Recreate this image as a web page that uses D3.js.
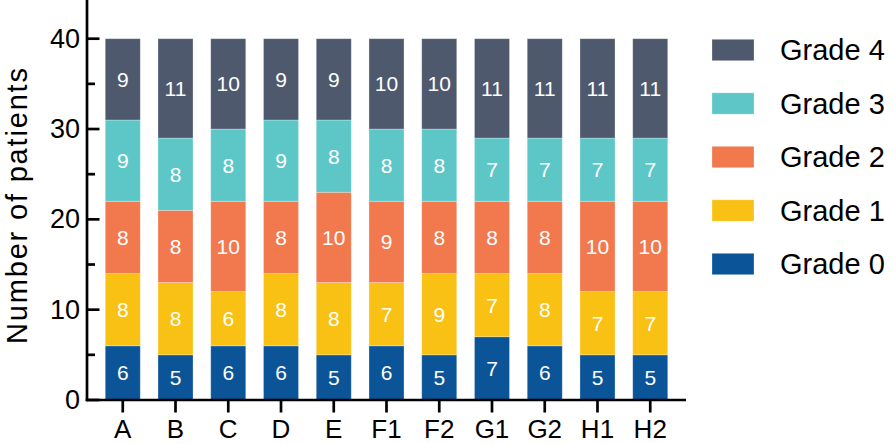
<!DOCTYPE html>
<html>
<head>
<meta charset="utf-8">
<script src="https://cdn.jsdelivr.net/npm/d3@7"></script>
<style>
  html, body { margin: 0; padding: 0; background: #fff; }
  svg { display: block; font-family: "Liberation Sans", Arial, sans-serif; }
</style>
</head>
<body>
<svg id="chart" width="895" height="444"></svg>
<script>
const categories = ["A", "B", "C", "D", "E", "F1", "F2", "G1", "G2", "H1", "H2"];
const seriesNames = ["Grade 0", "Grade 1", "Grade 2", "Grade 3", "Grade 4"];
const grade0 = [6, 5, 6, 6, 5, 6, 5, 7, 6, 5, 5];
const grade1 = [8, 8, 6, 8, 8, 7, 9, 7, 8, 7, 7];
const grade2 = [8, 8, 10, 8, 10, 9, 8, 8, 8, 10, 10];
const grade3 = [9, 8, 8, 9, 8, 8, 8, 7, 7, 7, 7];
const grade4 = [9, 11, 10, 9, 9, 10, 10, 11, 11, 11, 11];
const colors = ["#0B5497", "#F8C114", "#F2784E", "#5DC7C8", "#4E596E"];
const yTicks = [0, 10, 20, 30, 40];
const yMinorTicks = [5, 15, 25, 35];
const yTitle = "Number of patients";

const seriesValues = [grade0, grade1, grade2, grade3, grade4];
const rows = categories.map((c, i) => {
  const r = { cat: c };
  seriesNames.forEach((s, k) => r[s] = seriesValues[k][i]);
  return r;
});
const stacked = d3.stack().keys(seriesNames)(rows);

const svg = d3.select("#chart");
const x0 = 87, x1 = 686, yBase = 400;
const x = d3.scaleBand().domain(categories).range([x0, x1]).paddingInner(0.336).paddingOuter(0.346);
const y = d3.scaleLinear().domain([0, 40]).range([yBase, 38.7]);
const color = d3.scaleOrdinal().domain(seriesNames).range(colors);

// bars
const g = svg.append("g");
stacked.forEach((layer) => {
  g.append("g").selectAll("rect").data(layer).join("rect")
    .attr("x", d => x(d.data.cat))
    .attr("y", d => y(d[1]))
    .attr("width", x.bandwidth())
    .attr("height", d => y(d[0]) - y(d[1]))
    .attr("fill", color(layer.key))
    .attr("stroke", "rgba(255,255,255,0.35)")
    .attr("stroke-width", 0.8);
  g.append("g").selectAll("text").data(layer).join("text")
    .attr("x", d => x(d.data.cat) + x.bandwidth() / 2)
    .attr("y", d => (y(d[0]) + y(d[1])) / 2)
    .attr("text-anchor", "middle")
    .attr("dominant-baseline", "central")
    .attr("fill", "#fff")
    .attr("font-size", 21)
    .text(d => d[1] - d[0]);
});

// y axis (ticks pointing inward)
const yAxis = svg.append("g").attr("transform", `translate(${x0},0)`);
yAxis.append("line").attr("x1", 0).attr("x2", 0).attr("y1", 0).attr("y2", yBase + 1.3)
  .attr("stroke", "#000").attr("stroke-width", 2.7);
yAxis.selectAll(".maj").data(yTicks).join("line")
  .attr("x1", 0).attr("x2", 12.5).attr("y1", d => y(d)).attr("y2", d => y(d))
  .attr("stroke", "#000").attr("stroke-width", 2.7);
yAxis.selectAll(".min").data(yMinorTicks).join("line")
  .attr("x1", 0).attr("x2", 8).attr("y1", d => y(d)).attr("y2", d => y(d))
  .attr("stroke", "#000").attr("stroke-width", 2.7);
yAxis.selectAll("text").data(yTicks).join("text")
  .attr("x", -7).attr("y", d => y(d))
  .attr("text-anchor", "end").attr("dominant-baseline", "central")
  .attr("font-size", 27).attr("fill", "#000")
  .text(d => d);

// x axis
const xAxis = svg.append("g");
xAxis.append("line").attr("x1", x0 - 1.3).attr("x2", x1).attr("y1", yBase).attr("y2", yBase)
  .attr("stroke", "#000").attr("stroke-width", 2.7);
xAxis.selectAll(".tk").data(categories).join("line")
  .attr("x1", d => x(d) + x.bandwidth() / 2).attr("x2", d => x(d) + x.bandwidth() / 2)
  .attr("y1", yBase).attr("y2", yBase + 12.5)
  .attr("stroke", "#000").attr("stroke-width", 2.7);
xAxis.selectAll("text").data(categories).join("text")
  .attr("x", d => x(d) + x.bandwidth() / 2).attr("y", 438)
  .attr("text-anchor", "middle")
  .attr("font-size", 26).attr("fill", "#000")
  .text(d => d);

// y title
svg.append("text")
  .attr("transform", "translate(27,206) rotate(-90)")
  .attr("text-anchor", "middle")
  .attr("font-size", 29).attr("fill", "#000")
  .attr("textLength", 276).attr("lengthAdjust", "spacing")
  .text(yTitle);

// legend
const legendOrder = seriesNames.slice().reverse();
const lg = svg.append("g");
const ly = d3.scalePoint().domain(legendOrder).range([50, 264]);
lg.selectAll("rect").data(legendOrder).join("rect")
  .attr("x", 712).attr("y", d => ly(d) - 10.7).attr("width", 42).attr("height", 21.4)
  .attr("fill", d => color(d))
  .attr("stroke", "rgba(255,255,255,0.35)").attr("stroke-width", 0.8);
lg.selectAll("text").data(legendOrder).join("text")
  .attr("x", 780).attr("y", d => ly(d)).attr("dominant-baseline", "central")
  .attr("font-size", 29).attr("fill", "#000")
  .text(d => d);
</script>
</body>
</html>
